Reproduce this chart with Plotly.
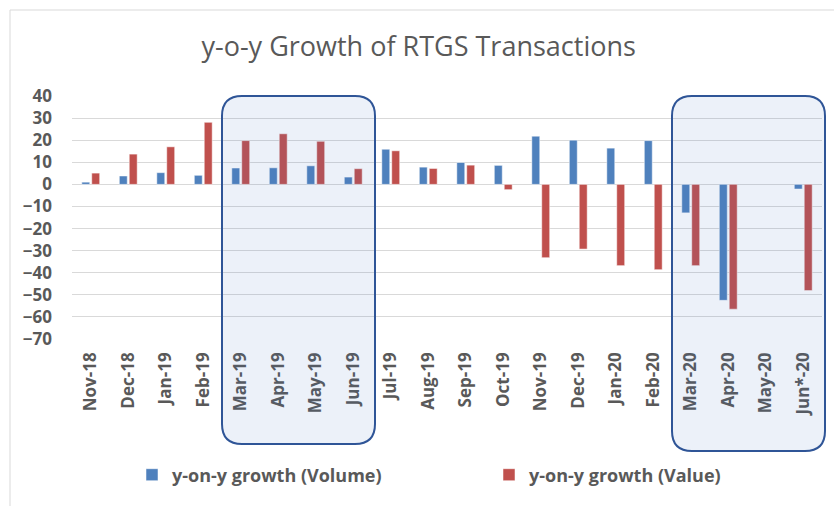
import plotly.graph_objects as go

categories = ["Nov-18", "Dec-18", "Jan-19", "Feb-19", "Mar-19", "Apr-19", "May-19", "Jun-19",
              "Jul-19", "Aug-19", "Sep-19", "Oct-19", "Nov-19", "Dec-19", "Jan-20", "Feb-20",
              "Mar-20", "Apr-20", "May-20", "Jun*-20"]
volume_growth = [1.0, 3.8, 5.3, 4.1, 7.4, 7.5, 8.4, 3.3,
                 15.9, 7.8, 9.9, 8.6, 21.8, 20.0, 16.4, 19.8,
                 -12.9, -52.5, None, -2.1]
value_growth = [5.1, 13.7, 17.0, 28.1, 19.8, 22.9, 19.5, 7.1,
                15.2, 7.2, 8.7, -2.4, -33.2, -29.3, -36.8, -38.6,
                -36.8, -56.5, None, -48.1]
y_ticks = [40, 30, 20, 10, 0, -10, -20, -30, -40, -50, -60, -70]
highlight_groups = [("Mar-19", "Jun-19"), ("Mar-20", "Jun*-20")]

W, H = 834, 506
L, R, T, B = 72, 12, 96, 167
PW, PH = W - L - R, H - T - B

fig = go.Figure()
fig.add_trace(go.Bar(x=categories, y=volume_growth, name="y-on-y growth (Volume)",
                     marker=dict(color="#4F81BD", line=dict(color="rgba(255,255,255,0.5)", width=1))))
fig.add_trace(go.Bar(x=categories, y=value_growth, name="y-on-y growth (Value)",
                     marker=dict(color="#C0504D", line=dict(color="rgba(255,255,255,0.5)", width=1))))

def rounded_path(x0, x1, y0, y1, rx, ry):
    return (f"M {x0+rx},{y1} L {x1-rx},{y1} Q {x1},{y1} {x1},{y1-ry} "
            f"L {x1},{y0+ry} Q {x1},{y0} {x1-rx},{y0} L {x0+rx},{y0} "
            f"Q {x0},{y0} {x0},{y0+ry} L {x0},{y1-ry} Q {x0},{y1} {x0+rx},{y1} Z")

n = len(categories)
rx, ry = 20 / PW, 20 / PH
bottoms = [(339 - 444) / PH, (339 - 451) / PH]
for (a, b), yb in zip(highlight_groups, bottoms):
    ia, ib = categories.index(a), categories.index(b)
    x0 = ia / n
    x1 = (ib + 1) / n + 3 / PW
    fig.add_shape(type="path", xref="paper", yref="paper", layer="above",
                  path=rounded_path(x0, x1, yb, 1.0, rx, ry),
                  fillcolor="rgba(68,114,196,0.10)", line=dict(color="#2F5597", width=2))

# outer chart border
fig.add_shape(type="rect", xref="paper", yref="paper", layer="below",
              x0=(10 - L) / PW, x1=(W + 20 - L) / PW, y0=-(H + 20 - (T + PH)) / PH, y1=(T + PH - 10) / PH,
              line=dict(color="#D9D9D9", width=1), fillcolor="rgba(0,0,0,0)")

tick_font = dict(family="Open Sans", size=17, color="#595959", weight="bold")
fig.update_layout(
    width=W, height=H,
    margin=dict(l=L, r=R, t=T, b=B, autoexpand=False),
    paper_bgcolor="white", plot_bgcolor="white",
    title=dict(text="y-o-y Growth of RTGS Transactions", x=0.502, xanchor="center",
               y=1 - 47 / H, yanchor="middle",
               font=dict(family="Open Sans", size=27, color="#595959")),
    barmode="group", bargap=0.47, bargroupgap=0.2,
    showlegend=True,
    legend=dict(orientation="h", x=(132 - L) / PW, xanchor="left", y=(339 - 475) / PH, yanchor="middle",
                font=dict(family="Open Sans", size=18, color="#595959", weight="bold"),
                entrywidth=312, entrywidthmode="pixels", bgcolor="rgba(0,0,0,0)"),
    xaxis=dict(type="category", range=[-0.5, n - 0.5], tickangle=-90, tickfont=tick_font,
               showgrid=False, showline=False, ticks="", ticklabelstandoff=9, automargin=False),
    yaxis=dict(range=[-70, 40], tickvals=y_ticks, tickfont=tick_font, showgrid=True,
               gridcolor="#D9D9D9", gridwidth=1, zeroline=True, zerolinecolor="#D9D9D9",
               zerolinewidth=1, showline=False, ticks="", ticklabelstandoff=19, automargin=False),
)

fig.write_html("out.html", config={"displayModeBar": False},
               post_script="document.body.style.margin='0';document.body.style.overflow='hidden';")
